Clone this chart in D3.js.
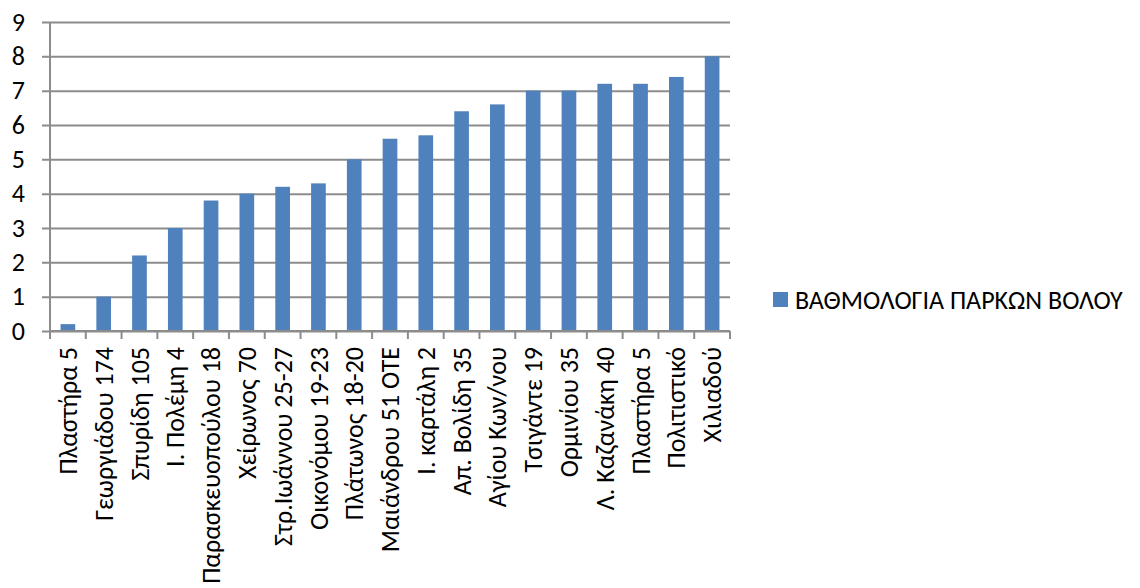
<!doctype html>
<html>
<head>
<meta charset="utf-8">
<script src="https://cdn.jsdelivr.net/npm/d3@7"></script>
<style>
  html, body { margin: 0; padding: 0; background: #fff; }
  svg { display: block; }
</style>
</head>
<body>
<script>
// Chart data
const categories = [
  "Πλαστήρα 5", "Γεωργιάδου 174", "Σπυρίδη 105", "Ι. Πολέμη 4",
  "Παρασκευοπούλου 18", "Χείρωνος 70", "Στρ.Ιωάννου 25-27", "Οικονόμου 19-23",
  "Πλάτωνος 18-20", "Μαιάνδρου 51 ΟΤΕ", "Ι. καρτάλη 2", "Απ. Βολίδη 35",
  "Αγίου Κων/νου", "Τσιγάντε 19", "Ορμινίου 35", "Λ. Καζανάκη 40",
  "Πλαστήρα 5", "Πολιτιστικό", "Χιλιαδού"
];
const scores = [0.2, 1, 2.2, 3, 3.8, 4, 4.2, 4.3, 5, 5.6, 5.7, 6.4, 6.6, 7, 7, 7.2, 7.2, 7.4, 8];
const yTicks = [0, 1, 2, 3, 4, 5, 6, 7, 8, 9];
const seriesName = "ΒΑΘΜΟΛΟΓΙΑ ΠΑΡΚΩΝ ΒΟΛΟΥ";

const W = 1140, H = 588;
const m = { top: 22, right: 410, bottom: 257, left: 50 };
const FONT = 'Carlito, Calibri, Lato, sans-serif';
const FS = 26;
const barColor = "#4f81bd";
const gridColor = "#8c8c8c";

// index keys, since one street name appears twice
const idx = categories.map((_, i) => i);

const x = d3.scaleBand()
  .domain(idx)
  .range([m.left, W - m.right])
  .paddingInner(0.59)
  .paddingOuter(0.295);

const y = d3.scaleLinear()
  .domain([0, 9])
  .range([H - m.bottom, m.top]);

const svg = d3.select("body").append("svg")
  .attr("width", W)
  .attr("height", H)
  .style("font-family", FONT);

svg.append("rect").attr("width", W).attr("height", H).attr("fill", "#fff");

// Gridlines + y labels
const yG = svg.append("g")
  .attr("transform", `translate(${m.left},0)`)
  .call(d3.axisLeft(y).tickValues(yTicks).tickSize(-(W - m.right - m.left)).tickPadding(25));
yG.select(".domain").remove();
yG.selectAll(".tick line")
  .attr("x1", -8)
  .attr("stroke", gridColor)
  .attr("stroke-width", 2);
yG.selectAll(".tick text")
  .attr("fill", "#000")
  .attr("font-size", FS)
  .attr("font-family", FONT);

// Vertical axis line
svg.append("line")
  .attr("x1", m.left).attr("x2", m.left)
  .attr("y1", y(9)).attr("y2", y(0))
  .attr("stroke", gridColor)
  .attr("stroke-width", 2);

// Bars
svg.append("g")
  .selectAll("rect")
  .data(scores)
  .join("rect")
  .attr("x", (d, i) => x(i))
  .attr("y", (d) => y(d))
  .attr("width", x.bandwidth())
  .attr("height", (d) => y(0) - y(d))
  .attr("fill", barColor);

// X axis line and category boundary ticks
const xG = svg.append("g")
  .attr("transform", `translate(0,${y(0)})`);
xG.append("line")
  .attr("x1", m.left).attr("x2", W - m.right)
  .attr("stroke", gridColor).attr("stroke-width", 2);
const step = x.step();
const bounds = d3.range(categories.length + 1).map((i) => m.left + i * step);
xG.selectAll("line.tk")
  .data(bounds)
  .join("line")
  .attr("class", "tk")
  .attr("x1", (d) => d).attr("x2", (d) => d)
  .attr("y1", 0).attr("y2", 8)
  .attr("stroke", gridColor).attr("stroke-width", 2);

// Category labels, rotated
const lblG = svg.append("g")
  .attr("transform", `translate(0,${y(0)})`)
  .call(d3.axisBottom(x).tickSize(0).tickFormat((i) => categories[i]));
lblG.select(".domain").remove();
lblG.selectAll(".tick text")
  .attr("transform", "rotate(-90)")
  .attr("text-anchor", "end")
  .attr("x", -16)
  .attr("y", 0)
  .attr("dy", "0.35em")
  .attr("fill", "#000")
  .attr("font-size", FS)
  .attr("font-family", FONT);

// Legend
const lg = svg.append("g").attr("transform", "translate(773,292)");
lg.append("rect").attr("width", 15).attr("height", 15).attr("fill", barColor);
lg.append("text")
  .attr("x", 22)
  .attr("y", 7.5)
  .attr("dy", "0.35em")
  .attr("font-size", FS)
  .attr("fill", "#000")
  .text(seriesName);
</script>
</body>
</html>
